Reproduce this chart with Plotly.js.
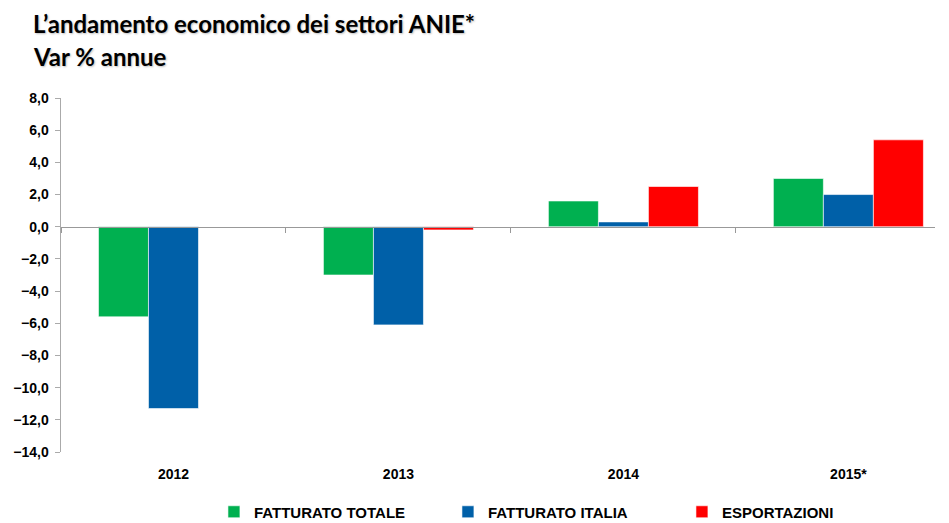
<!DOCTYPE html>
<html><head><meta charset="utf-8">
<script src="https://cdn.plot.ly/plotly-3.0.1.min.js"></script>
<style>html,body{margin:0;padding:0;background:#fff;}#chart{width:949px;height:523px;}</style>
</head><body><div id="chart"></div>
<script>
const categories = ['2012', '2013', '2014', '2015*'];
const fatturatoTotale = [-5.6, -3.0, 1.6, 3.0];
const fatturatoItalia = [-11.3, -6.1, 0.3, 2.0];
const esportazioni = [null, -0.2, 2.5, 5.4];
const seriesNames = ['FATTURATO TOTALE', 'FATTURATO ITALIA', 'ESPORTAZIONI'];
const seriesColors = ['#00B050', '#0060A8', '#FF0000'];
const yTicks = [8, 6, 4, 2, 0, -2, -4, -6, -8, -10, -12, -14];

const vals = [fatturatoTotale, fatturatoItalia, esportazioni];
const traces = vals.map((v, i) => ({
  type: 'bar', x: categories, y: v, name: seriesNames[i],
  marker: {color: seriesColors[i], line: {color: 'rgba(255,255,255,0.6)', width: 1}},
  hoverinfo: 'skip'
}));

const zeroFrac = 14 / 22;
const layout = {
  width: 949, height: 523,
  margin: {l: 61, r: 14, t: 98, b: 71},
  paper_bgcolor: '#fff', plot_bgcolor: '#fff',
  separators: ',.',
  barmode: 'group', bargap: 0.333, bargroupgap: 0,
  showlegend: true,
  legend: {orientation: 'h', x: 0.175, xanchor: 'left', xref: 'paper', yref: 'container', y: 0.021, yanchor: 'middle',
    font: {family: 'Arial, Liberation Sans', size: 15, color: '#000', weight: 'bold'},
    entrywidth: 189, entrywidthmode: 'pixels', itemclick: false},
  xaxis: {type: 'category', range: [-0.5, 3.385], showline: false, showgrid: false, zeroline: false,
    ticks: '', tickfont: {family: 'Arial, Liberation Sans', size: 14, color: '#000', weight: 'bold'},
    ticklabelstandoff: 12, fixedrange: true},
  xaxis2: {type: 'category', overlaying: 'x', matches: 'x', anchor: 'free', position: zeroFrac,
    showline: true, linecolor: '#999', linewidth: 1.5, showticklabels: false, ticks: 'outside',
    tickson: 'boundaries', ticklen: 5, tickcolor: '#999', tickwidth: 1, showgrid: false, zeroline: false},
  yaxis: {range: [-14, 8], tickvals: yTicks, tickformat: '.1f', showgrid: false, zeroline: false,
    showline: true, linecolor: '#aaa', linewidth: 1.5, ticks: 'outside', ticklen: 5, tickcolor: '#aaa',
    ticklabelstandoff: 3,
    tickfont: {family: 'Arial, Liberation Sans', size: 14, color: '#000', weight: 'bold'}, fixedrange: true},
  annotations: [
    {xref: 'paper', yref: 'paper', x: -0.034, y: 1, yshift: 75, xanchor: 'left', yanchor: 'middle',
     text: 'L’andamento economico dei settori ANIE*', showarrow: false,
     font: {family: 'Lato', size: 24, color: '#000', weight: 'bold', shadow: '1px 1px 2px rgba(0,0,0,0.25)'}},
    {xref: 'paper', yref: 'paper', x: -0.034, y: 1, yshift: 42, xanchor: 'left', yanchor: 'middle',
     text: 'Var % annue', showarrow: false,
     font: {family: 'Lato', size: 24, color: '#000', weight: 'bold', shadow: '1px 1px 2px rgba(0,0,0,0.25)'}}
  ]
};
traces.push({type: 'bar', x: categories, y: [null, null, null, null], xaxis: 'x2', showlegend: false, hoverinfo: 'skip'});
Plotly.newPlot('chart', traces, layout, {staticPlot: true});
</script></body></html>
